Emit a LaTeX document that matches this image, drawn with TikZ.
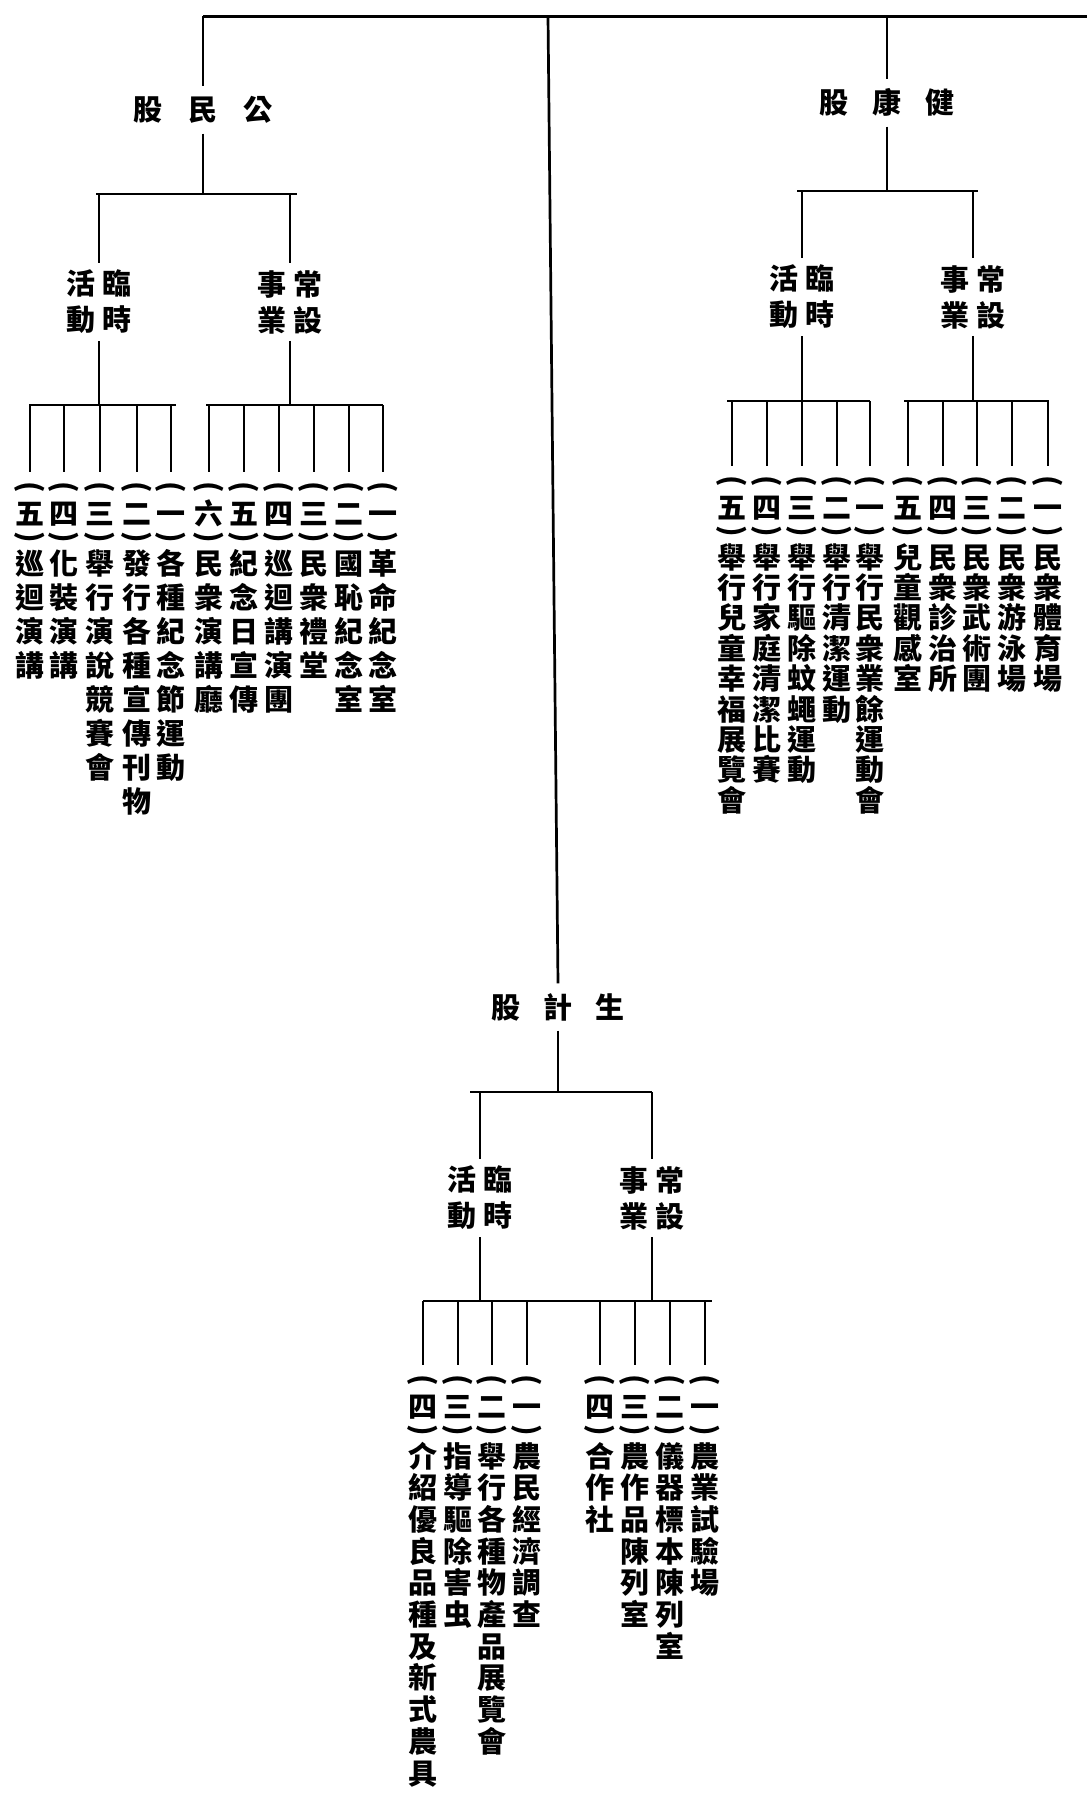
\documentclass[tikz,border=0pt]{standalone}
\usepackage{fontspec}
\newfontfamily\cjk{Noto Sans CJK TC}
\tikzset{
  ln/.style={line width=2.7pt},
  topln/.style={line width=3.4pt},
  chr/.style={font=\cjk\bfseries\fontsize{29}{29}\selectfont, inner sep=0pt, text height=25.5pt, text depth=3.5pt, anchor=center},
  prn/.style={font=\cjk\bfseries\fontsize{29}{29}\selectfont, inner sep=0pt, outer ysep=9pt, anchor=center},
  hd/.style={font=\cjk\bfseries\fontsize{29}{29}\selectfont, inner xsep=2pt, inner ysep=9pt, text height=25.5pt, text depth=3.5pt},
  lbl/.style={font=\cjk\bfseries\fontsize{29}{36}\selectfont, align=center, inner xsep=2pt, inner ysep=7pt},
}
% name, x, y0, number, pitch, chars, bar y
\newcommand\leafcol[7]{%
  \node[prn] (#1) at (#2,#3) {\rotatebox{-90}{(}};
  \node[chr] (#1-n) at (#2,#3+26) {#4};
  \node[prn] (#1-c) at (#2,#3+50) {\rotatebox{-90}{)}};
  \foreach \c [count=\i from 0] in {#6} \node[chr] (#1-\i) at (#2,{#3+76+#5*\i}) {\c};
  \draw[ln] (#2,#7) -- (#1.north);
}
\begin{document}
\begin{tikzpicture}[x=1pt,y=-1pt]
\fill[white] (0,0) rectangle (1087,1814);
\useasboundingbox (0,0) rectangle (1087,1814);

% ---------- top ----------
\coordinate (tl) at (203,16.5);
\coordinate (tr) at (1087,16.5);
\coordinate (tc) at (548,16.5);
\draw[topln] (tl) -- (tr);

% ---------- 公民股 ----------
\node[hd] (gm) at (203,110) {股\hspace{26pt}民\hspace{26pt}公};
\draw[ln] (tl) -- (gm.north);
\coordinate (gmb) at (203,194);
\draw[ln] (gm.south) -- (gmb);
\draw[ln] (96,194) -- (297,194);
\node[lbl] (gmL) at (99,302) {活\hspace{8pt}臨\\動\hspace{8pt}時};
\node[lbl] (gmR) at (290,302) {事\hspace{7pt}常\\業\hspace{7pt}設};
\draw[ln] (gmL.north |- gmb) -- (gmL.north);
\draw[ln] (gmR.north |- gmb) -- (gmR.north);
\coordinate (gmlb) at (0,405);
\draw[ln] (gmL.south) -- (gmL.south |- gmlb);
\draw[ln] (gmR.south) -- (gmR.south |- gmlb);
\draw[ln] (29,405) -- (176,405);
\draw[ln] (206,405) -- (383,405);

\leafcol{a1}{30}{487}{五}{34}{巡,迴,演,講}{405}
\leafcol{a2}{64}{487}{四}{34}{化,裝,演,講}{405}
\leafcol{a3}{100}{487}{三}{34}{舉,行,演,說,競,賽,會}{405}
\leafcol{a4}{137}{487}{二}{34}{發,行,各,種,宣,傳,刊,物}{405}
\leafcol{a5}{171}{487}{一}{34}{各,種,紀,念,節,運,動}{405}
\leafcol{b1}{209}{487}{六}{34}{民,衆,演,講,廳}{405}
\leafcol{b2}{244}{487}{五}{34}{紀,念,日,宣,傳}{405}
\leafcol{b3}{279}{487}{四}{34}{巡,迴,講,演,團}{405}
\leafcol{b4}{314}{487}{三}{34}{民,衆,禮,堂}{405}
\leafcol{b5}{349}{487}{二}{34}{國,恥,紀,念,室}{405}
\leafcol{b6}{383}{487}{一}{34}{革,命,紀,念,室}{405}

% ---------- 健康股 ----------
\node[hd] (jk) at (887,103) {股\hspace{24pt}康\hspace{24pt}健};
\draw[ln] (jk.north |- tr) -- (jk.north);
\coordinate (jkb) at (0,191);
\draw[ln] (jk.south) -- (jk.south |- jkb);
\draw[ln] (797,191) -- (978,191);
\node[lbl] (jkL) at (802,297) {活\hspace{8pt}臨\\動\hspace{8pt}時};
\node[lbl] (jkR) at (973,297) {事\hspace{8pt}常\\業\hspace{8pt}設};
\draw[ln] (jkL.north |- jkb) -- (jkL.north);
\draw[ln] (jkR.north |- jkb) -- (jkR.north);
\coordinate (jklb) at (0,401);
\draw[ln] (jkL.south) -- (jkL.south |- jklb);
\draw[ln] (jkR.south) -- (jkR.south |- jklb);
\draw[ln] (727,401) -- (870,401);
\draw[ln] (904,401) -- (1049,401);

\leafcol{c1}{732}{481}{五}{30.4}{舉,行,兒,童,幸,福,展,覽,會}{401}
\leafcol{c2}{767}{481}{四}{30.4}{舉,行,家,庭,清,潔,比,賽}{401}
\leafcol{c3}{802}{481}{三}{30.4}{舉,行,驅,除,蚊,蠅,運,動}{401}
\leafcol{c4}{837}{481}{二}{30.4}{舉,行,清,潔,運,動}{401}
\leafcol{c5}{870}{481}{一}{30.4}{舉,行,民,衆,業,餘,運,動,會}{401}
\leafcol{d1}{908}{481}{五}{30.4}{兒,童,觀,感,室}{401}
\leafcol{d2}{943}{481}{四}{30.4}{民,衆,診,治,所}{401}
\leafcol{d3}{977}{481}{三}{30.4}{民,衆,武,術,團}{401}
\leafcol{d4}{1012}{481}{二}{30.4}{民,衆,游,泳,場}{401}
\leafcol{d5}{1048}{481}{一}{30.4}{民,衆,體,育,場}{401}

% ---------- 生計股 ----------
\node[hd] (sj) at (558,1007) {股\hspace{23pt}計\hspace{23pt}生};
\draw[ln] (tc) -- (sj.north);
\coordinate (sjb) at (0,1092);
\draw[ln] (sj.south) -- (sj.south |- sjb);
\draw[ln] (470,1092) -- (652,1092);
\node[lbl] (sjL) at (480,1198) {活\hspace{8pt}臨\\動\hspace{8pt}時};
\node[lbl] (sjR) at (652,1198) {事\hspace{8pt}常\\業\hspace{8pt}設};
\draw[ln] (sjL.north |- sjb) -- (sjL.north);
\draw[ln] (sjR.north |- sjb) -- (sjR.north);
\coordinate (sjlb) at (0,1301);
\draw[ln] (sjL.south) -- (sjL.south |- sjlb);
\draw[ln] (sjR.south) -- (sjR.south |- sjlb);
\draw[ln] (423,1301) -- (712,1301);

\leafcol{e1}{423}{1380}{四}{31.7}{介,紹,優,良,品,種,及,新,式,農,具}{1301}
\leafcol{e2}{458}{1380}{三}{31.7}{指,導,驅,除,害,虫}{1301}
\leafcol{e3}{492}{1380}{二}{31.7}{舉,行,各,種,物,產,品,展,覽,會}{1301}
\leafcol{e4}{527}{1380}{一}{31.7}{農,民,經,濟,調,查}{1301}
\leafcol{f1}{600}{1380}{四}{31.7}{合,作,社}{1301}
\leafcol{f2}{635}{1380}{三}{31.7}{農,作,品,陳,列,室}{1301}
\leafcol{f3}{670}{1380}{二}{31.7}{儀,器,標,本,陳,列,室}{1301}
\leafcol{f4}{705}{1380}{一}{31.7}{農,業,試,驗,場}{1301}
\end{tikzpicture}
\end{document}
